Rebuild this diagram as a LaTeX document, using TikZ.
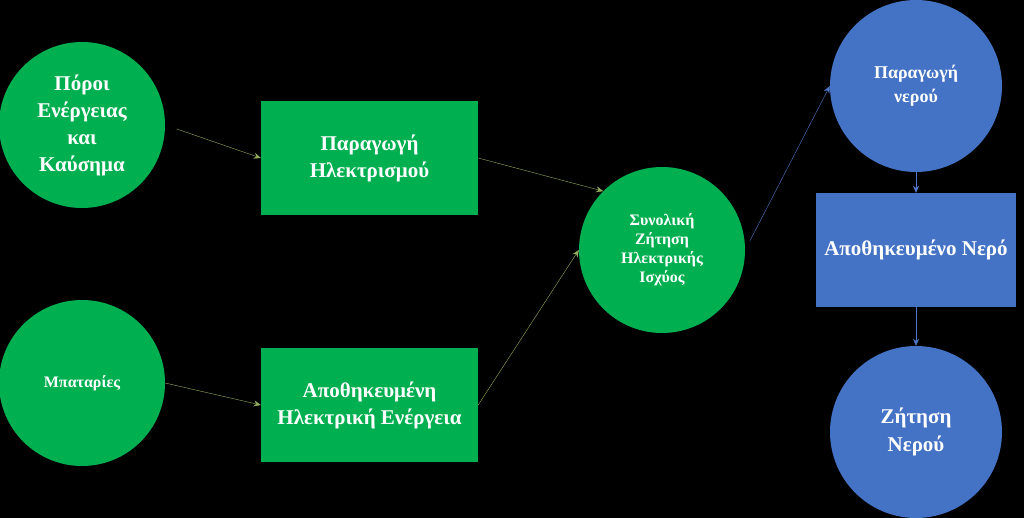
\documentclass[tikz,border=0pt]{standalone}
\usepackage{fontspec}
\setmainfont{Liberation Serif}
\usepackage{xcolor}
\usetikzlibrary{arrows.meta, positioning, calc}
\definecolor{nodegreen}{RGB}{0, 176, 80}
\definecolor{nodeblue}{RGB}{68, 114, 196}
\definecolor{linkgreen}{RGB}{146, 172, 92}
\definecolor{linkblue}{RGB}{80, 120, 200}

\begin{document}
\begin{tikzpicture}[x=1pt, y=-1pt,
    font=\bfseries, text=white]

% Background
\fill[black] (0,0) rectangle (1024,518);
\useasboundingbox (0,0) rectangle (1024,518);

% Energy side
\node[circle, fill=nodegreen, minimum size=166pt, inner sep=0pt, align=center,
      font=\bfseries\fontsize{21}{27}\selectfont] (fuel) at (82,125)
      {Πόροι\\Ενέργειας\\και\\Καύσημα};

\node[circle, fill=nodegreen, minimum size=166pt, inner sep=0pt, align=center,
      font=\bfseries\fontsize{16}{19}\selectfont] (battery) at (82,383)
      {Μπαταρίες};

\node[rectangle, fill=nodegreen, minimum width=217pt, minimum height=114pt,
      align=center, font=\bfseries\fontsize{21}{27}\selectfont] (generation) at (369.5,158)
      {Παραγωγή\\Ηλεκτρισμού};

\node[rectangle, fill=nodegreen, minimum width=217pt, minimum height=114pt,
      align=center, font=\bfseries\fontsize{21}{27}\selectfont] (storedpower) at (369.5,405)
      {Αποθηκευμένη\\Ηλεκτρική Ενέργεια};

\node[circle, fill=nodegreen, minimum size=166pt, inner sep=0pt, align=center,
      font=\bfseries\fontsize{16}{19}\selectfont] (demand) at (662,250)
      {Συνολική\\Ζήτηση\\Ηλεκτρικής\\Ισχύος};

% Water side
\node[circle, fill=nodeblue, minimum size=172pt, inner sep=0pt, align=center,
      font=\bfseries\fontsize{18}{24}\selectfont] (watergen) at (916,86)
      {Παραγωγή\\νερού};

\node[rectangle, fill=nodeblue, minimum width=200pt, minimum height=114pt,
      align=center, font=\bfseries\fontsize{21}{27}\selectfont] (storedwater) at (916,250)
      {Αποθηκευμένο Νερό};

\node[circle, fill=nodeblue, minimum size=172pt, inner sep=0pt, align=center,
      font=\bfseries\fontsize{21}{28}\selectfont] (waterdemand) at (916,432)
      {Ζήτηση\\Νερού};

% Arrows
\draw[-{Stealth[length=7pt,width=6pt]}, draw=linkgreen, thin, shorten <=12pt]
      (fuel.east) -- (generation.west);
\draw[-{Stealth[length=7pt,width=6pt]}, draw=linkgreen, thin]
      (battery.east) -- (storedpower.west);
\draw[-{Stealth[length=7pt,width=6pt]}, draw=linkgreen, thin]
      (generation.east) -- (demand.135);
\draw[-{Stealth[length=7pt,width=6pt]}, draw=linkgreen, thin]
      (storedpower.east) -- (demand.west);
\draw[-{Stealth[length=7pt,width=6pt]}, draw=linkblue, thin, shorten <=10pt]
      (demand.east) -- (watergen.west);
\draw[-{Stealth[length=7pt,width=6pt]}, draw=linkblue, thin]
      (watergen.south) -- (storedwater.north);
\draw[-{Stealth[length=7pt,width=6pt]}, draw=linkblue, thin]
      (storedwater.south) -- (waterdemand.north);

\end{tikzpicture}
\end{document}
